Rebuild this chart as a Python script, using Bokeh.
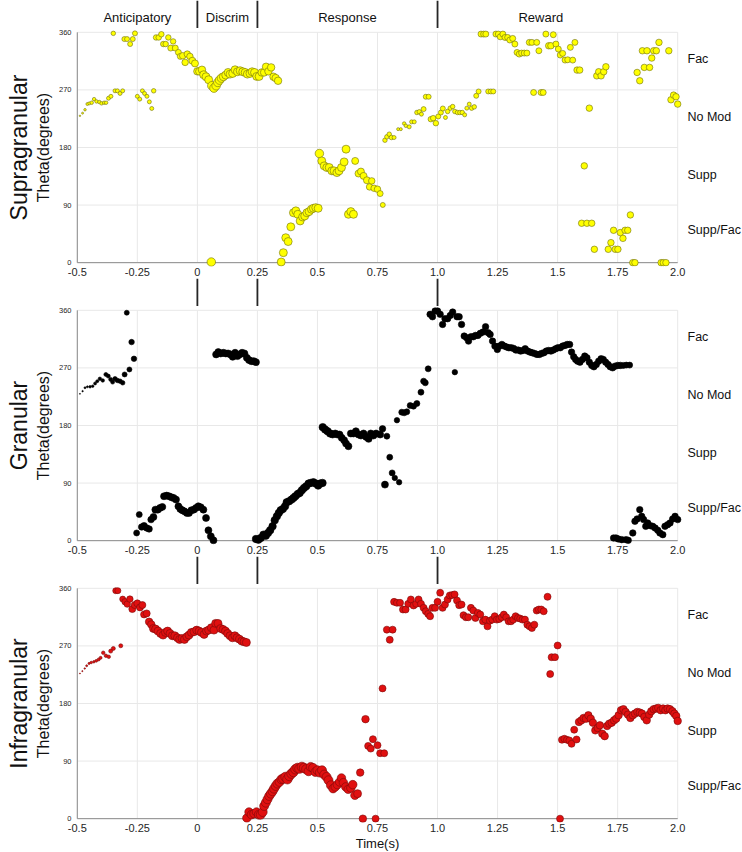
from bokeh.plotting import figure
from bokeh.layouts import column
from bokeh.models import ColumnDataSource, Range1d, LinearAxis, FixedTicker
from bokeh.core.properties import value
from bokeh.embed import file_html
from bokeh.resources import INLINE

# ---------------- data ----------------
X_TICKS = [-0.5, -0.25, 0, 0.25, 0.5, 0.75, 1.0, 1.25, 1.5, 1.75, 2.0]
X_TICK_LABELS = ["-0.5", "-0.25", "0", "0.25", "0.5", "0.75", "1.0", "1.25", "1.5", "1.75", "2.0"]
Y_TICKS = [0, 90, 180, 270, 360]
EVENTS = [0.0, 0.25, 1.0]
PHASES = ["Anticipatory", "Discrim", "Response", "Reward"]
PHASE_CENTERS = [-0.25, 0.125, 0.625, 1.43]
MOD_NAMES = ["Fac", "No Mod", "Supp", "Supp/Fac"]
MOD_Y = [319, 227, 137, 51]
LAYERS = ["Supragranular", "Granular", "Infragranular"]

supra_t = [
    -0.489, -0.478, -0.468, -0.458, -0.450, -0.440, -0.430, -0.420, -0.408, -0.399,
    -0.388, -0.380, -0.370, -0.360, -0.350, -0.343, -0.333, -0.322, -0.311, -0.304,
    -0.293, -0.280, -0.269, -0.260, -0.250, -0.240, -0.229, -0.220, -0.210, -0.200,
    -0.190, -0.182, -0.172, -0.161, -0.150, -0.142, -0.132, -0.121, -0.111, -0.101,
    -0.092, -0.079, -0.071, -0.061, -0.051, -0.042, -0.031, -0.021, -0.010, 0.000,
    0.008, 0.019, 0.026, 0.036, 0.047, 0.058, 0.060, 0.069, 0.078, 0.085,
    0.092, 0.100, 0.108, 0.118, 0.128, 0.136, 0.147, 0.157, 0.167, 0.178,
    0.189, 0.199, 0.208, 0.219, 0.228, 0.238, 0.247, 0.257, 0.268, 0.278,
    0.286, 0.296, 0.307, 0.317, 0.326, 0.336, 0.349, 0.358, 0.368, 0.378,
    0.389, 0.400, 0.410, 0.418, 0.428, 0.438, 0.447, 0.456, 0.465, 0.475,
    0.483, 0.493, 0.503, 0.508, 0.518, 0.528, 0.539, 0.549, 0.560, 0.569,
    0.581, 0.590, 0.600, 0.611, 0.619, 0.629, 0.639, 0.650, 0.657, 0.671,
    0.681, 0.692, 0.706, 0.717, 0.726, 0.736, 0.750, 0.761, 0.772, 0.781,
    0.789, 0.799, 0.808, 0.819, 0.836, 0.847, 0.861, 0.868, 0.882, 0.892,
    0.903, 0.914, 0.924, 0.933, 0.942, 0.951, 0.963, 0.972, 0.982, 0.993,
    1.003, 1.014, 1.022, 1.033, 1.042, 1.053, 1.063, 1.072, 1.083, 1.093,
    1.103, 1.113, 1.122, 1.132, 1.142, 1.153, 1.161, 1.171, 1.181, 1.192,
    1.201, 1.211, 1.222, 1.232, 1.243, 1.253, 1.261, 1.272, 1.281, 1.292,
    1.301, 1.313, 1.322, 1.331, 1.340, 1.350, 1.361, 1.372, 1.382, 1.393,
    1.400, 1.413, 1.422, 1.431, 1.440, 1.451, 1.463, 1.472, 1.482, 1.493,
    1.503, 1.511, 1.521, 1.531, 1.542, 1.553, 1.563, 1.572, 1.581, 1.592,
    1.600, 1.611, 1.622, 1.632, 1.642, 1.653, 1.663, 1.671, 1.681, 1.692,
    1.701, 1.711, 1.722, 1.733, 1.740, 1.751, 1.761, 1.772, 1.781, 1.792,
    1.803, 1.813, 1.822, 1.831, 1.842, 1.853, 1.861, 1.872, 1.883, 1.892,
    1.900, 1.911, 1.922, 1.931, 1.940, 1.951, 1.963, 1.972, 1.983, 1.993,
    2.000,
]
supra_theta = [
    229.5, 233.7, 239, 248, 249, 250, 255.6, 252, 251, 249,
    250, 250, 257, 260, 358.4, 268.6, 268.6, 264.5, 268.6, 349.5,
    349.5, 341.7, 349.5, 358.4, 260, 255.6, 268.6, 264.5, 260, 251.4,
    241, 268.6, 352, 352, 357, 341.7, 341.7, 352, 335.4, 345.8,
    335.4, 328.6, 322.4, 323.4, 313, 326, 322.4, 315.6, 311.4, 299,
    299, 301.5, 293.7, 290.6, 285.9, 1, 276.5, 272.8, 276.5, 281.7,
    285.3, 288.5, 290.6, 293.2, 297.3, 294.7, 295.8, 301.5, 298.4, 300,
    298.4, 297.3, 294.7, 295.8, 298.4, 297.3, 291.1, 291.1, 297.3, 297.3,
    306.2, 299, 305.2, 290.6, 288.5, 284.3, 1, 15.6, 39, 33,
    56, 78, 81, 75.6, 65.2, 71.5, 73, 78, 79.8, 83.5,
    85, 86, 85, 170.6, 159, 151.3, 148.7, 148.7, 143.5, 143.5,
    140.8, 143.5, 148.7, 157.5, 177.4, 75.6, 79.8, 75.6, 159, 139.3,
    142.4, 135.6, 128.8, 118.4, 127.8, 116.3, 114.8, 108, 90.2, 191.4,
    196.7, 200.8, 195.6, 195.6, 208.7, 208.7, 217.5, 213.9, 212.3, 220.1,
    220.1, 234.7, 235.8, 232.1, 240, 259.3, 259.3, 224.3, 225.9, 218,
    228.5, 234.7, 241, 226.9, 236.3, 241.5, 244, 236.3, 234.7, 234.7,
    234.7, 231, 241.5, 247.8, 241.5, 243.5, 260.8, 267.6, 357.3, 357.3,
    357.3, 267.6, 267.6, 267.6, 357.3, 357.3, 353, 357.3, 352, 352,
    348, 350.5, 341.7, 328.6, 326, 327.6, 327.6, 327.6, 344.3, 344.3,
    266, 344.3, 331.2, 266, 266, 357.3, 339, 339, 356.3, 341.7,
    333.9, 324.5, 327.1, 316.6, 317.1, 336.5, 316.6, 344.3, 301, 301,
    61.6, 151.3, 61.6, 241.5, 61.6, 20.9, 292, 298.4, 292, 298.4,
    306.2, 20.9, 31.3, 50.6, 20.9, 20.9, 47, 38, 50.6, 50.6,
    74.6, 0, 0, 297.3, 284.3, 331.2, 305.2, 331.2, 305.2, 319.8,
    331.2, 331.2, 344.3, 0, 0, 0, 331.2, 254.6, 261.9, 259.3,
    247.8,
]
supra_r = [
    0.15, 0.2, 0.25, 0.3, 0.3, 0.35, 0.35, 0.35, 0.35, 0.35,
    0.35, 0.35, 0.4, 0.4, 0.45, 0.4, 0.4, 0.4, 0.4, 0.5,
    0.5, 0.5, 0.5, 0.5, 0.4, 0.4, 0.4, 0.4, 0.4, 0.4,
    0.4, 0.45, 0.55, 0.55, 0.55, 0.55, 0.55, 0.55, 0.6, 0.55,
    0.6, 0.6, 0.6, 0.65, 0.65, 0.65, 0.65, 0.7, 0.7, 0.75,
    0.75, 0.75, 0.8, 0.8, 0.8, 0.85, 0.85, 0.85, 0.85, 0.85,
    0.85, 0.85, 0.8, 0.8, 0.8, 0.8, 0.8, 0.8, 0.8, 0.8,
    0.8, 0.8, 0.8, 0.8, 0.8, 0.8, 0.8, 0.8, 0.75, 0.75,
    0.75, 0.75, 0.75, 0.75, 0.75, 0.75, 0.8, 0.8, 0.8, 0.8,
    0.8, 0.8, 0.8, 0.8, 0.8, 0.8, 0.8, 0.8, 0.8, 0.8,
    0.8, 0.8, 0.8, 0.85, 0.8, 0.8, 0.8, 0.8, 0.8, 0.8,
    0.8, 0.8, 0.8, 0.8, 0.8, 0.8, 0.8, 0.8, 0.7, 0.7,
    0.7, 0.7, 0.7, 0.65, 0.65, 0.65, 0.65, 0.6, 0.5, 0.45,
    0.45, 0.45, 0.45, 0.4, 0.3, 0.3, 0.35, 0.35, 0.4, 0.4,
    0.4, 0.45, 0.45, 0.4, 0.5, 0.5, 0.5, 0.55, 0.55, 0.55,
    0.5, 0.5, 0.5, 0.4, 0.45, 0.45, 0.45, 0.45, 0.45, 0.45,
    0.45, 0.4, 0.4, 0.4, 0.45, 0.45, 0.5, 0.5, 0.6, 0.6,
    0.6, 0.5, 0.5, 0.5, 0.6, 0.6, 0.6, 0.6, 0.6, 0.6,
    0.6, 0.6, 0.6, 0.6, 0.6, 0.6, 0.6, 0.6, 0.6, 0.6,
    0.6, 0.6, 0.6, 0.6, 0.6, 0.6, 0.65, 0.65, 0.6, 0.6,
    0.6, 0.6, 0.6, 0.6, 0.6, 0.6, 0.6, 0.6, 0.65, 0.65,
    0.65, 0.65, 0.65, 0.65, 0.65, 0.65, 0.65, 0.65, 0.65, 0.65,
    0.65, 0.65, 0.65, 0.65, 0.65, 0.65, 0.65, 0.65, 0.65, 0.65,
    0.65, 0.65, 0.65, 0.65, 0.65, 0.65, 0.65, 0.65, 0.65, 0.65,
    0.65, 0.65, 0.65, 0.65, 0.65, 0.65, 0.65, 0.65, 0.65, 0.65,
    0.65,
]

gran_t = [
    -0.489, -0.478, -0.468, -0.458, -0.447, -0.436, -0.426, -0.417, -0.406, -0.394,
    -0.381, -0.371, -0.361, -0.353, -0.343, -0.333, -0.322, -0.311, -0.303, -0.294,
    -0.283, -0.274, -0.264, -0.253, -0.242, -0.232, -0.222, -0.211, -0.201, -0.193,
    -0.183, -0.175, -0.165, -0.156, -0.146, -0.139, -0.128, -0.118, -0.108, -0.099,
    -0.089, -0.079, -0.071, -0.063, -0.054, -0.044, -0.035, -0.025, -0.015, -0.006,
    0.004, 0.014, 0.025, 0.036, 0.046, 0.056, 0.067, 0.078, 0.087, 0.097,
    0.108, 0.118, 0.128, 0.138, 0.147, 0.157, 0.167, 0.176, 0.186, 0.196,
    0.206, 0.215, 0.225, 0.235, 0.244, 0.244, 0.254, 0.264, 0.275, 0.285,
    0.294, 0.303, 0.313, 0.322, 0.331, 0.339, 0.347, 0.356, 0.365, 0.372,
    0.382, 0.392, 0.400, 0.408, 0.418, 0.426, 0.435, 0.444, 0.453, 0.463,
    0.472, 0.483, 0.493, 0.503, 0.511, 0.521, 0.522, 0.532, 0.542, 0.553,
    0.563, 0.574, 0.583, 0.592, 0.601, 0.611, 0.619, 0.629, 0.639, 0.650,
    0.660, 0.671, 0.681, 0.692, 0.703, 0.713, 0.722, 0.733, 0.744, 0.761,
    0.771, 0.781, 0.789, 0.801, 0.811, 0.822, 0.831, 0.840, 0.851, 0.861,
    0.872, 0.886, 0.900, 0.914, 0.931, 0.942, 0.949, 0.961, 0.969, 0.979,
    0.990, 1.000, 1.011, 1.021, 1.031, 1.042, 1.053, 1.063, 1.072, 1.081,
    1.090, 1.100, 1.111, 1.121, 1.129, 1.139, 1.149, 1.158, 1.168, 1.178,
    1.189, 1.200, 1.211, 1.219, 1.229, 1.239, 1.249, 1.258, 1.268, 1.278,
    1.288, 1.297, 1.307, 1.317, 1.326, 1.336, 1.346, 1.356, 1.365, 1.375,
    1.385, 1.394, 1.404, 1.414, 1.424, 1.433, 1.443, 1.453, 1.463, 1.472,
    1.482, 1.492, 1.501, 1.511, 1.521, 1.531, 1.540, 1.550, 1.558, 1.567,
    1.575, 1.583, 1.593, 1.603, 1.613, 1.622, 1.632, 1.642, 1.651, 1.661,
    1.671, 1.681, 1.690, 1.700, 1.710, 1.719, 1.729, 1.739, 1.750, 1.761,
    1.774, 1.786, 1.800, 1.733, 1.743, 1.753, 1.767, 1.785, 1.794, 1.813,
    1.822, 1.831, 1.842, 1.850, 1.858, 1.867, 1.875, 1.886, 1.896, 1.906,
    1.917, 1.926, 1.938, 1.947, 1.958, 1.968, 1.979, 1.989, 2.000,
]
gran_theta = [
    229.5, 233.7, 239, 240.5, 240.5, 241.5, 245.7, 249.3, 253, 250.4,
    259.8, 257.2, 252, 247.8, 253, 250.4, 249.3, 246.7, 259.8, 356.3,
    267.6, 310.4, 284.3, 12, 40.7, 21.4, 23.5, 19.8, 18.3, 32.9,
    37, 48.5, 48.5, 51.1, 52.7, 69.4, 70.4, 69.4, 67.8, 66.8,
    64.2, 53.7, 49.6, 47.5, 45.9, 43.3, 43.3, 47.5, 48.5, 51.1,
    53.7, 52.2, 48.5, 35.5, 16.2, 6.8, 0.5, 291.1, 294.7, 292.6,
    293.7, 292.6, 292.6, 291.1, 287.4, 293.7, 288.5, 291.1, 293.7, 292.6,
    285.9, 282.2, 280.6, 280.6, 279, 2.6, 1.6, 4.2, 9.4, 7.8,
    12, 16.2, 22.4, 31.8, 38, 43.3, 47.5, 49.6, 53.7, 60,
    61.6, 64.2, 66.8, 69.4, 73, 74.6, 78.8, 82.4, 85, 89.2,
    90.2, 91.3, 89.2, 86.1, 89.2, 90.2, 177.4, 173.7, 171, 167.5,
    165.9, 167.5, 165.9, 165.9, 160.7, 157, 151.8, 147.6, 167.5, 167.5,
    171, 165.9, 164.3, 167.5, 162.2, 159.1, 167.5, 164.3, 167.5, 165.9,
    174.8, 87.6, 163.3, 130.4, 105.9, 98.1, 188.3, 91.3, 200.8, 199.8,
    201.4, 211.3, 210.2, 214.4, 232.1, 249.3, 246.7, 268.6, 353.7, 350,
    358.9, 358.9, 353.7, 338, 346.9, 346.9, 352.1, 357.3, 263.4, 350,
    350, 338, 319.8, 317.2, 311.9, 318.7, 318.7, 320.8, 320.8, 324,
    326, 334.4, 325, 322.4, 311.9, 304.1, 298.9, 304.1, 306.7, 304.1,
    302.6, 301.5, 301.5, 300.5, 297.9, 297.9, 296.3, 297.3, 300, 296.3,
    294.7, 293.7, 292.6, 291.1, 291.1, 292.6, 293.7, 296.3, 297.3, 296.3,
    297.9, 300, 301.5, 301.5, 304.1, 305.2, 306.7, 306.7, 294.7, 287.4,
    283.3, 280.6, 279, 283.3, 288.5, 285.9, 279, 273.9, 271.8, 275.4,
    280.6, 284.3, 283.3, 279, 275.4, 271.8, 270.2, 272.8, 273.9, 273.9,
    273.9, 274.4, 274.4, 4.2, 4.2, 2.6, 1.6, 1.6, 0.5, 12,
    30.3, 33.9, 48.5, 38, 32.9, 22.4, 27.6, 23.5, 22.4, 19.8,
    16.2, 12, 9.4, 22.4, 25, 27.6, 33.9, 38, 32.9,
]
gran_r = [
    0.1, 0.15, 0.2, 0.2, 0.25, 0.25, 0.3, 0.3, 0.35, 0.35,
    0.4, 0.4, 0.4, 0.4, 0.45, 0.45, 0.45, 0.45, 0.5, 0.5,
    0.5, 0.55, 0.55, 0.6, 0.6, 0.65, 0.65, 0.65, 0.65, 0.65,
    0.7, 0.7, 0.7, 0.7, 0.7, 0.7, 0.7, 0.7, 0.7, 0.7,
    0.7, 0.7, 0.7, 0.7, 0.7, 0.7, 0.7, 0.7, 0.7, 0.7,
    0.7, 0.7, 0.7, 0.7, 0.7, 0.7, 0.7, 0.7, 0.7, 0.7,
    0.7, 0.7, 0.7, 0.7, 0.7, 0.7, 0.7, 0.7, 0.7, 0.7,
    0.7, 0.7, 0.7, 0.7, 0.7, 0.75, 0.75, 0.75, 0.75, 0.75,
    0.75, 0.75, 0.75, 0.75, 0.75, 0.75, 0.75, 0.75, 0.75, 0.75,
    0.75, 0.75, 0.75, 0.75, 0.75, 0.75, 0.75, 0.75, 0.75, 0.75,
    0.75, 0.75, 0.75, 0.75, 0.75, 0.75, 0.75, 0.75, 0.75, 0.75,
    0.7, 0.7, 0.7, 0.7, 0.7, 0.7, 0.7, 0.7, 0.7, 0.7,
    0.7, 0.7, 0.7, 0.7, 0.7, 0.7, 0.7, 0.7, 0.7, 0.7,
    0.65, 0.7, 0.6, 0.6, 0.6, 0.55, 0.55, 0.55, 0.6, 0.6,
    0.6, 0.6, 0.6, 0.6, 0.6, 0.6, 0.6, 0.6, 0.65, 0.65,
    0.65, 0.65, 0.65, 0.65, 0.65, 0.65, 0.65, 0.65, 0.55, 0.65,
    0.65, 0.65, 0.65, 0.65, 0.65, 0.65, 0.65, 0.65, 0.65, 0.65,
    0.65, 0.65, 0.65, 0.65, 0.65, 0.65, 0.65, 0.65, 0.65, 0.65,
    0.65, 0.65, 0.65, 0.65, 0.65, 0.65, 0.65, 0.65, 0.65, 0.65,
    0.65, 0.65, 0.65, 0.65, 0.65, 0.65, 0.65, 0.65, 0.65, 0.65,
    0.65, 0.65, 0.65, 0.65, 0.65, 0.65, 0.65, 0.65, 0.65, 0.65,
    0.65, 0.65, 0.65, 0.65, 0.65, 0.65, 0.65, 0.65, 0.65, 0.65,
    0.65, 0.65, 0.65, 0.65, 0.65, 0.65, 0.65, 0.65, 0.65, 0.65,
    0.6, 0.6, 0.6, 0.65, 0.65, 0.65, 0.65, 0.65, 0.65, 0.65,
    0.65, 0.65, 0.65, 0.65, 0.65, 0.65, 0.65, 0.65, 0.65, 0.65,
    0.65, 0.65, 0.65, 0.65, 0.65, 0.65, 0.65, 0.65, 0.65,
]

infra_t = [
    -0.489, -0.479, -0.469, -0.461, -0.451, -0.442, -0.431, -0.421, -0.411, -0.403,
    -0.392, -0.381, -0.369, -0.361, -0.350, -0.340, -0.331, -0.319, -0.311, -0.301,
    -0.292, -0.281, -0.271, -0.261, -0.250, -0.239, -0.229, -0.222, -0.211, -0.201,
    -0.192, -0.183, -0.174, -0.164, -0.153, -0.143, -0.133, -0.124, -0.114, -0.104,
    -0.094, -0.083, -0.074, -0.064, -0.054, -0.044, -0.035, -0.025, -0.014, -0.003,
    0.007, 0.017, 0.028, 0.038, 0.047, 0.058, 0.069, 0.076, 0.086, 0.097,
    0.107, 0.117, 0.126, 0.136, 0.146, 0.156, 0.165, 0.175, 0.185, 0.194,
    0.204, 0.206, 0.215, 0.225, 0.236, 0.246, 0.256, 0.264, 0.272, 0.278,
    0.285, 0.292, 0.299, 0.306, 0.313, 0.319, 0.326, 0.333, 0.342, 0.350,
    0.358, 0.367, 0.375, 0.383, 0.392, 0.400, 0.408, 0.417, 0.425, 0.435,
    0.444, 0.454, 0.463, 0.472, 0.482, 0.492, 0.500, 0.510, 0.519, 0.528,
    0.538, 0.546, 0.556, 0.565, 0.574, 0.583, 0.592, 0.600, 0.608, 0.618,
    0.628, 0.639, 0.647, 0.656, 0.667, 0.678, 0.689, 0.700, 0.711, 0.722,
    0.731, 0.742, 0.750, 0.761, 0.771, 0.778, 0.789, 0.801, 0.813, 0.819,
    0.831, 0.844, 0.856, 0.867, 0.878, 0.889, 0.900, 0.911, 0.921, 0.931,
    0.942, 0.951, 0.961, 0.969, 0.979, 0.990, 1.000, 1.011, 1.021, 1.031,
    1.042, 1.051, 1.061, 1.071, 1.081, 1.090, 1.100, 1.108, 1.118, 1.128,
    1.139, 1.149, 1.158, 1.168, 1.178, 1.189, 1.199, 1.208, 1.218, 1.228,
    1.238, 1.247, 1.257, 1.267, 1.276, 1.286, 1.296, 1.306, 1.315, 1.325,
    1.335, 1.344, 1.354, 1.364, 1.374, 1.383, 1.393, 1.403, 1.413, 1.422,
    1.432, 1.442, 1.458, 1.469, 1.475, 1.489, 1.500, 1.510, 1.518, 1.528,
    1.539, 1.549, 1.558, 1.569, 1.579, 1.589, 1.599, 1.608, 1.618, 1.628,
    1.638, 1.647, 1.657, 1.667, 1.676, 1.686, 1.696, 1.706, 1.715, 1.725,
    1.735, 1.744, 1.754, 1.764, 1.774, 1.783, 1.793, 1.803, 1.813, 1.822,
    1.832, 1.842, 1.851, 1.861, 1.871, 1.881, 1.890, 1.900, 1.910, 1.919,
    1.929, 1.939, 1.949, 1.958, 1.968, 1.978, 1.986, 1.994, 2.000,
]
infra_theta = [
    226.9, 230.6, 234.7, 239, 242.6, 244.1, 245.2, 246.7, 248.8, 251.4,
    259.3, 254.6, 253, 261.9, 266, 356.3, 356.3, 270.2, 343.2, 339,
    335.4, 343.2, 327.6, 333.9, 336.5, 330.2, 333.9, 319.2, 320.8, 307.8,
    303.6, 297.3, 296.3, 293.2, 289.5, 286.9, 291.1, 293.2, 289.5, 285.9,
    285.9, 282.7, 280.1, 281.7, 280.1, 284.3, 286.9, 291.1, 292.1, 294.7,
    293.2, 291.1, 288, 293.2, 294.7, 298.4, 294.7, 305.2, 305.2, 297.3,
    295.8, 293.2, 289.5, 285.9, 282.7, 285.9, 282.7, 280.6, 277.5, 276.5,
    275.4, 1, 10.4, 6.3, 7.8, 10.4, 6.3, 6.3, 10.4, 19.8,
    25, 30.3, 35.5, 39.1, 42.8, 46.9, 51.1, 54.8, 57.4, 61.6,
    62.6, 65.2, 61.6, 66.8, 70.4, 73, 77.2, 79.3, 78.2, 80.9,
    79.3, 77.2, 74.1, 80.9, 79.3, 73, 75.6, 72, 75.6, 68.9,
    65.2, 60, 52.2, 46.9, 49.6, 53.2, 57.4, 63.6, 56.3, 49.6,
    45.9, 48, 53.2, 36.5, 39.1, 72, 0, 155.5, 113.7, 109.5,
    124.2, 0, 114.8, 102.3, 203.6, 102.3, 295.4, 279.6, 295.4, 338.9,
    337.4, 337.4, 326.9, 326.9, 335.8, 342.6, 333.2, 335.8, 342.6, 335.8,
    329.5, 324.2, 320, 316.4, 329.5, 329.5, 338.9, 353.1, 329.5, 334.7,
    342.6, 348.9, 349.4, 350.5, 341, 333.7, 334.7, 318, 314.8, 314.8,
    329.5, 325.3, 313.7, 321.6, 319, 308.5, 311.1, 300.6, 309.5, 311.1,
    316.4, 311.1, 312.1, 314.8, 319, 314.8, 308.5, 308.5, 311.1, 316.4,
    313.7, 312.7, 311.1, 311.1, 303.2, 300.6, 298, 303.2, 325.3, 326.9,
    326.9, 324.2, 346.8, 226, 252.4, 252.4, 270.7, 0, 123.3, 124.9,
    123.3, 122.2, 117, 139, 123.8, 151.1, 153.7, 157.4, 156.3, 161.6,
    156.3, 150, 138, 141.7, 145.9, 132.7, 129, 144.8, 148.5, 150,
    153.7, 156.3, 161.6, 169.5, 171.1, 166.8, 162.6, 157.4, 161.6, 164.2,
    166.8, 165.8, 164.2, 159, 153.7, 162.6, 167.9, 171.1, 172.1, 173.1,
    169.5, 172.1, 169.5, 172.1, 171.1, 167.9, 164.2, 160.5, 152.7,
]
infra_r = [
    0.1, 0.12, 0.15, 0.2, 0.22, 0.25, 0.25, 0.28, 0.3, 0.3,
    0.35, 0.35, 0.35, 0.4, 0.4, 0.6, 0.6, 0.4, 0.6, 0.65,
    0.65, 0.65, 0.7, 0.7, 0.7, 0.7, 0.7, 0.7, 0.7, 0.75,
    0.75, 0.8, 0.8, 0.8, 0.8, 0.8, 0.8, 0.8, 0.8, 0.8,
    0.8, 0.8, 0.8, 0.8, 0.8, 0.8, 0.8, 0.8, 0.8, 0.8,
    0.8, 0.8, 0.8, 0.8, 0.8, 0.8, 0.8, 0.8, 0.8, 0.8,
    0.8, 0.8, 0.8, 0.8, 0.8, 0.8, 0.8, 0.8, 0.8, 0.8,
    0.8, 0.85, 0.85, 0.85, 0.85, 0.85, 0.9, 0.9, 0.9, 0.9,
    0.9, 0.9, 0.9, 0.9, 0.9, 0.9, 0.9, 0.9, 0.9, 0.9,
    0.95, 0.95, 0.95, 0.95, 0.95, 0.95, 0.95, 0.95, 0.95, 0.95,
    0.95, 0.95, 0.9, 0.9, 0.9, 0.9, 0.9, 0.9, 0.9, 0.9,
    0.9, 0.9, 0.9, 0.85, 0.85, 0.85, 0.85, 0.85, 0.85, 0.85,
    0.85, 0.85, 0.85, 0.85, 0.8, 0.75, 0.75, 0.75, 0.7, 0.7,
    0.7, 0.7, 0.7, 0.7, 0.7, 0.7, 0.7, 0.7, 0.7, 0.7,
    0.7, 0.7, 0.7, 0.7, 0.7, 0.7, 0.7, 0.7, 0.7, 0.7,
    0.7, 0.7, 0.7, 0.7, 0.7, 0.7, 0.7, 0.7, 0.7, 0.7,
    0.7, 0.7, 0.7, 0.7, 0.7, 0.7, 0.7, 0.7, 0.7, 0.7,
    0.7, 0.7, 0.7, 0.7, 0.7, 0.7, 0.7, 0.7, 0.7, 0.7,
    0.7, 0.7, 0.7, 0.7, 0.7, 0.7, 0.7, 0.7, 0.7, 0.7,
    0.7, 0.7, 0.7, 0.7, 0.7, 0.7, 0.7, 0.7, 0.7, 0.7,
    0.7, 0.7, 0.7, 0.7, 0.7, 0.7, 0.7, 0.7, 0.7, 0.7,
    0.7, 0.7, 0.7, 0.7, 0.7, 0.75, 0.75, 0.75, 0.75, 0.75,
    0.75, 0.75, 0.75, 0.75, 0.75, 0.75, 0.75, 0.75, 0.75, 0.75,
    0.75, 0.75, 0.75, 0.75, 0.75, 0.75, 0.75, 0.75, 0.75, 0.75,
    0.75, 0.75, 0.75, 0.75, 0.75, 0.75, 0.75, 0.75, 0.75, 0.75,
    0.75, 0.75, 0.75, 0.75, 0.75, 0.75, 0.75, 0.75, 0.75,
]

for a, b, c in [(supra_t, supra_theta, supra_r), (gran_t, gran_theta, gran_r), (infra_t, infra_theta, infra_r)]:
    assert len(a) == len(b) == len(c), (len(a), len(b), len(c))

# ---------------- styling / layout ----------------
FONT = "Liberation Sans"
FW, FH = 610, 238
ML, MR = 72, 0
XR = Range1d(-0.52, 2.02)
GRID = "#e8e8e8"
AXIS = "#8c8c8c"
EVENT_COLOR = "#262626"
TEXT = "#111111"
SIZE_SCALE = 10.0

PANEL_STYLE = [
    dict(fill="#ffff00", line="#6f6f10"),
    dict(fill="#000000", line="#000000"),
    dict(fill="#e01010", line="#7a0a0a"),
]


def strip_fig(height):
    p = figure(frame_width=FW, frame_height=height, x_range=XR, y_range=Range1d(0, 1),
               x_axis_location=None, y_axis_location=None,
               output_backend="svg", toolbar_location=None,
               min_border_left=ML, min_border_right=MR, min_border_top=0, min_border_bottom=0)
    p.outline_line_color = None
    p.xgrid.visible = False
    p.ygrid.visible = False
    p.segment(x0=EVENTS, y0=[0] * len(EVENTS), x1=EVENTS, y1=[1] * len(EVENTS),
              line_color=EVENT_COLOR, line_width=1.8)
    return p


def panel(t, th, r, style, layer, last):
    p = figure(frame_width=FW, frame_height=FH, x_range=XR, y_range=Range1d(-6, 366),
               output_backend="svg", toolbar_location=None,
               min_border_left=ML, min_border_right=MR, min_border_top=0, min_border_bottom=0)
    p.outline_line_color = None
    p.xgrid.visible = False
    p.ygrid.visible = False
    x0, x1 = X_TICKS[0], X_TICKS[-1]
    y0, y1 = Y_TICKS[0], Y_TICKS[-1]
    # grid
    p.segment(x0=X_TICKS, y0=[y0] * len(X_TICKS), x1=X_TICKS, y1=[y1] * len(X_TICKS),
              line_color=GRID, line_width=1)
    p.segment(x0=[x0] * len(Y_TICKS), y0=Y_TICKS, x1=[x1] * len(Y_TICKS), y1=Y_TICKS,
              line_color=GRID, line_width=1)
    # axis lines
    p.segment(x0=[x0, x0], y0=[y0, y0], x1=[x0, x1], y1=[y1, y0], line_color=AXIS, line_width=1)

    src = ColumnDataSource(dict(t=t, th=th, sz=[SIZE_SCALE * v for v in r]))
    p.scatter(x="t", y="th", size="sz", source=src, fill_color=style["fill"],
              line_color=style["line"], line_width=0.6)

    for ax in (p.xaxis[0], p.yaxis[0]):
        ax.axis_line_color = None
        ax.major_tick_line_color = None
        ax.minor_tick_line_color = None
        ax.major_tick_out = 0
        ax.major_tick_in = 0
        ax.minor_tick_out = 0
        ax.minor_tick_in = 0
        ax.major_label_text_font = FONT
        ax.major_label_text_color = "#262626"
    p.xaxis.ticker = X_TICKS
    p.xaxis.major_label_overrides = {k: v for k, v in zip(X_TICKS, X_TICK_LABELS)}
    p.xaxis.major_label_text_font_size = "11px"
    p.xaxis.major_label_standoff = 1
    p.yaxis.ticker = Y_TICKS
    p.yaxis.major_label_text_font_size = "7.5px"
    p.yaxis.major_label_standoff = 1
    p.yaxis.axis_label = "Theta(degrees)"
    p.yaxis.axis_label_text_font = FONT
    p.yaxis.axis_label_text_font_style = "normal"
    p.yaxis.axis_label_text_font_size = "16px"
    p.yaxis.axis_label_text_color = TEXT
    p.yaxis.axis_label_standoff = 4
    if last:
        p.xaxis.axis_label = "Time(s)"
        p.xaxis.axis_label_text_font = FONT
        p.xaxis.axis_label_text_font_style = "normal"
        p.xaxis.axis_label_text_font_size = "13px"
        p.xaxis.axis_label_text_color = TEXT
        p.xaxis.axis_label_standoff = 1

    # layer name as an outer, tickless left axis
    outer = LinearAxis(ticker=FixedTicker(ticks=[]), axis_label=layer,
                       axis_line_color=None, major_tick_line_color=None,
                       minor_tick_line_color=None, major_tick_out=0, major_tick_in=0,
                       minor_tick_out=0, minor_tick_in=0,
                       axis_label_text_font=FONT, axis_label_text_font_style="normal",
                       axis_label_text_font_size="23px", axis_label_text_color=TEXT,
                       axis_label_standoff=0)
    p.add_layout(outer, "left")

    # modulation category labels on the right
    right = LinearAxis(ticker=FixedTicker(ticks=MOD_Y),
                       major_label_overrides={k: v for k, v in zip(MOD_Y, MOD_NAMES)},
                       axis_line_color=None, major_tick_line_color=None,
                       minor_tick_line_color=None, major_tick_out=0, major_tick_in=0,
                       minor_tick_out=0, minor_tick_in=0,
                       major_label_text_font=FONT, major_label_text_font_size="12.5px",
                       major_label_text_color=TEXT, major_label_standoff=5)
    p.add_layout(right, "right")
    return p


header = strip_fig(28)
header.text(x=PHASE_CENTERS, y=[0.39] * len(PHASES), text=PHASES, text_align="center",
            text_baseline="middle", text_font=value(FONT), text_font_size="13px",
            text_color=TEXT)

p1 = panel(supra_t, supra_theta, supra_r, PANEL_STYLE[0], LAYERS[0], False)
g1 = strip_fig(28)
p2 = panel(gran_t, gran_theta, gran_r, PANEL_STYLE[1], LAYERS[1], False)
g2 = strip_fig(28)
p3 = panel(infra_t, infra_theta, infra_r, PANEL_STYLE[2], LAYERS[2], True)

layout = column(header, p1, g1, p2, g2, p3, spacing=0)

open("out.html", "w").write(file_html(layout, INLINE))
